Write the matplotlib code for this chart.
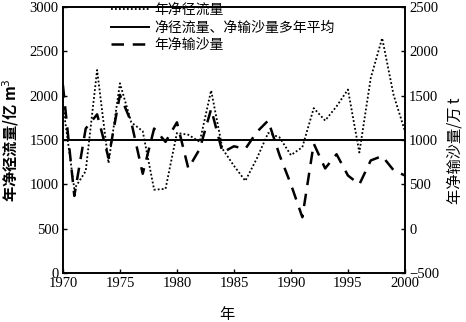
import matplotlib
matplotlib.use("Agg")
import matplotlib.pyplot as plt

plt.rcParams['font.family'] = ['Noto Sans CJK SC', 'DejaVu Sans']

years = list(range(1970, 2001))
# 年净径流量 (亿 m3)
runoff = [1900, 950, 1150, 2290, 1240, 2140, 1700, 1600, 940, 950,
          1580, 1560, 1480, 2060, 1400, 1210, 1040, 1290, 1580, 1530,
          1330, 1420, 1860, 1720, 1880, 2070, 1360, 2200, 2650, 2010,
          1600]
# 年净输沙量 (万 t)
sediment = [1620, 370, 1130, 1290, 800, 1510, 1200, 620, 1130, 980,
            1200, 680, 900, 1350, 860, 930, 900, 1090, 1220, 830,
            500, 130, 960, 680, 840, 600, 500, 770, 820, 660,
            600]
runoff_mean = 1500

fig = plt.figure(figsize=(4.66, 3.22), dpi=100)
ax = fig.add_axes([0.135, 0.152, 0.734, 0.826])
ax2 = ax.twinx()

l1, = ax.plot(years, runoff, color='black', linestyle=(0, (1, 1.2)), linewidth=1.3)
l2 = ax.axhline(runoff_mean, color='black', linewidth=1.4)
l3, = ax2.plot(years, sediment, color='black', linestyle=(0, (5, 3.5)), linewidth=1.8)

ax.set_xlim(1970, 2000)
ax.set_ylim(0, 3000)
ax2.set_ylim(-500, 2500)
ax.set_xticks(range(1970, 2001, 5))
ax.set_yticks(range(0, 3001, 500))
ax2.set_yticks(range(-500, 2501, 500))

for a in (ax, ax2):
    a.tick_params(direction='in', length=3, width=1, pad=3)
    for lab in a.get_xticklabels() + a.get_yticklabels():
        lab.set_fontfamily('Liberation Serif')
        lab.set_fontsize(10.5)
    for s in a.spines.values():
        s.set_linewidth(1.2)

ax.set_xlabel('年', fontsize=11)
ax.xaxis.set_label_coords(0.48, -0.125)
ax.set_ylabel('年净径流量/亿 m$^3$', fontsize=11, fontweight='bold')
ax.yaxis.set_label_coords(-0.122, 0.5)
ax2.set_ylabel('年净输沙量/万 t', fontsize=11)
ax2.yaxis.set_label_coords(1.122, 0.46)

ax2.legend([l1, l2, l3], ['年净径流量', '净径流量、净输沙量多年平均', '年净输沙量'],
           loc='upper left', bbox_to_anchor=(110 / 466, 0.995), bbox_transform=fig.transFigure,
           frameon=False, fontsize=10, handlelength=2.7, handletextpad=0.4,
           labelspacing=0.25, borderaxespad=0.0, borderpad=0.1)

fig.savefig('out.png', dpi=100)
